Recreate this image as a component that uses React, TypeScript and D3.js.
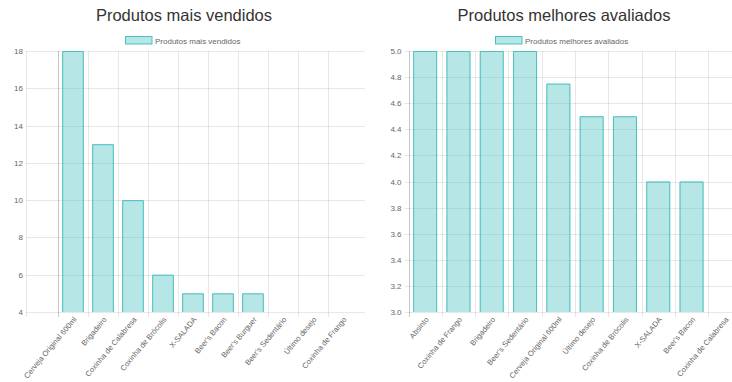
import React, { useEffect, useRef } from "react";
import * as d3 from "d3";

// Produtos mais vendidos
const soldLabels = [
  "Cerveja Original 600ml",
  "Brigadeiro",
  "Coxinha de Calabresa",
  "Coxinha de Brócolis",
  "X-SALADA",
  "Beer's Bacon",
  "Beer's Burguer",
  "Beer's Sedentário",
  "Último desejo",
  "Coxinha de Frango",
];
const soldValues = [18, 13, 10, 6, 5, 5, 5, 4, 4, 4];
const soldTicks = [4, 6, 8, 10, 12, 14, 16, 18];

// Produtos melhores avaliados
const ratedLabels = [
  "Absinto",
  "Coxinha de Frango",
  "Brigadeiro",
  "Beer's Sedentário",
  "Cerveja Original 600ml",
  "Último desejo",
  "Coxinha de Brócolis",
  "X-SALADA",
  "Beer's Bacon",
  "Coxinha de Calabresa",
];
const ratedValues = [5, 5, 5, 5, 4.75, 4.5, 4.5, 4, 4, 3];
const ratedTicks = [3.0, 3.2, 3.4, 3.6, 3.8, 4.0, 4.2, 4.4, 4.6, 4.8, 5.0];

const FONT = "'Liberation Sans', Arial, Helvetica, sans-serif";
const GRID = "rgba(0,0,0,0.09)";
const AXIS = "rgba(0,0,0,0.22)";
const TEXT = "#666";

interface ChartCfg {
  title: string;
  labels: string[];
  values: number[];
  ticks: number[];
  fmt: (v: number) => string;
  titleX: number;
  legendX: number;
  gridLeft: number; // left end of the horizontal grid
  axisX: number; // darker axis line / start of categories
  step: number;
  plotRight: number;
}

const W = 732;
const H = 382;
const TOP = 51;
const BOTTOM = 312;

const charts: ChartCfg[] = [
  {
    title: "Produtos mais vendidos",
    labels: soldLabels,
    values: soldValues,
    ticks: soldTicks,
    fmt: d3.format("d"),
    titleX: 184,
    legendX: 125,
    gridLeft: 26,
    axisX: 58,
    step: 30,
    plotRight: 365,
  },
  {
    title: "Produtos melhores avaliados",
    labels: ratedLabels,
    values: ratedValues,
    ticks: ratedTicks,
    fmt: d3.format(".1f"),
    titleX: 564,
    legendX: 495,
    gridLeft: 408.5,
    axisX: 408.5,
    step: 33.3,
    plotRight: 740,
  },
];

const App: React.FC = () => {
  const svgRef = useRef<SVGSVGElement>(null);

  useEffect(() => {
    if (!svgRef.current) return;
    const svg = d3.select(svgRef.current);
    svg.selectAll("*").remove();

    charts.forEach((c) => {
      const g = svg.append("g");
      const ext = d3.extent(c.ticks) as [number, number];
      const y = d3.scaleLinear().domain(ext).range([BOTTOM, TOP]);
      const x = d3
        .scaleBand()
        .domain(c.labels)
        .range([c.axisX, c.axisX + c.labels.length * c.step])
        .padding(0);
      const barW = x.bandwidth() * 0.72;

      // title
      g.append("text")
        .attr("x", c.titleX)
        .attr("y", 21)
        .attr("text-anchor", "middle")
        .style("font-family", FONT)
        .style("font-size", "16.5px")
        .style("fill", "#333")
        .text(c.title);

      // legend
      g.append("rect")
        .attr("x", c.legendX + 0.5)
        .attr("y", 36.5)
        .attr("width", 26.5)
        .attr("height", 7.5)
        .attr("fill", "rgba(75,192,192,0.4)")
        .attr("stroke", "rgb(75,192,192)")
        .attr("stroke-width", 1);
      g.append("text")
        .attr("x", c.legendX + 30)
        .attr("y", 43.5)
        .style("font-family", FONT)
        .style("font-size", "8px")
        .style("fill", TEXT)
        .text(c.title);

      // horizontal grid + y ticks
      const left = c.gridLeft - (c.gridLeft === c.axisX ? 4 : 0);
      c.ticks.forEach((t) => {
        const yy = Math.round(y(t)) + 0.5;
        g.append("line")
          .attr("x1", left)
          .attr("x2", c.plotRight)
          .attr("y1", yy)
          .attr("y2", yy)
          .attr("stroke", GRID);
        g.append("text")
          .attr("x", left - 3)
          .attr("y", yy)
          .attr("dy", "0.35em")
          .attr("text-anchor", "end")
          .style("font-family", FONT)
          .style("font-size", "8px")
          .style("fill", TEXT)
          .text(c.fmt(t));
      });

      // vertical grid
      if (c.gridLeft !== c.axisX) {
        g.append("line")
          .attr("x1", Math.round(c.gridLeft) + 0.5)
          .attr("x2", Math.round(c.gridLeft) + 0.5)
          .attr("y1", TOP)
          .attr("y2", BOTTOM + 5)
          .attr("stroke", GRID);
      }
      c.labels.forEach((l, i) => {
        const xx = Math.round(x(l) as number) + 0.5;
        g.append("line")
          .attr("x1", xx)
          .attr("x2", xx)
          .attr("y1", TOP)
          .attr("y2", BOTTOM + 5)
          .attr("stroke", i === 0 ? AXIS : GRID);
      });

      // bars
      c.labels.forEach((l, i) => {
        const v = c.values[i];
        const cx = (x(l) as number) + x.bandwidth() / 2;
        const top = y(v);
        const h = BOTTOM - top;
        if (h <= 0) return;
        g.append("rect")
          .attr("x", cx - barW / 2)
          .attr("y", top)
          .attr("width", barW)
          .attr("height", h)
          .attr("fill", "rgba(75,192,192,0.4)");
        g.append("path")
          .attr(
            "d",
            `M${cx - barW / 2 + 0.5},${BOTTOM}V${top + 0.5}H${cx + barW / 2 - 0.5}V${BOTTOM}`
          )
          .attr("fill", "none")
          .attr("stroke", "rgb(75,192,192)")
          .attr("stroke-width", 1);
      });

      // x labels
      c.labels.forEach((l) => {
        const cx = (x(l) as number) + x.bandwidth() / 2;
        g.append("text")
          .attr("transform", `translate(${cx + 2},${BOTTOM + 6}) rotate(-50)`)
          .attr("text-anchor", "end")
          .attr("dy", "0.35em")
          .style("font-family", FONT)
          .style("font-size", "7.6px")
          .style("fill", TEXT)
          .text(l);
      });
    });
  }, []);

  return (
    <svg
      ref={svgRef}
      width={W}
      height={H}
      viewBox={`0 0 ${W} ${H}`}
      style={{ position: "absolute", left: 0, top: 0, background: "#fff" }}
    />
  );
};

export default App;
